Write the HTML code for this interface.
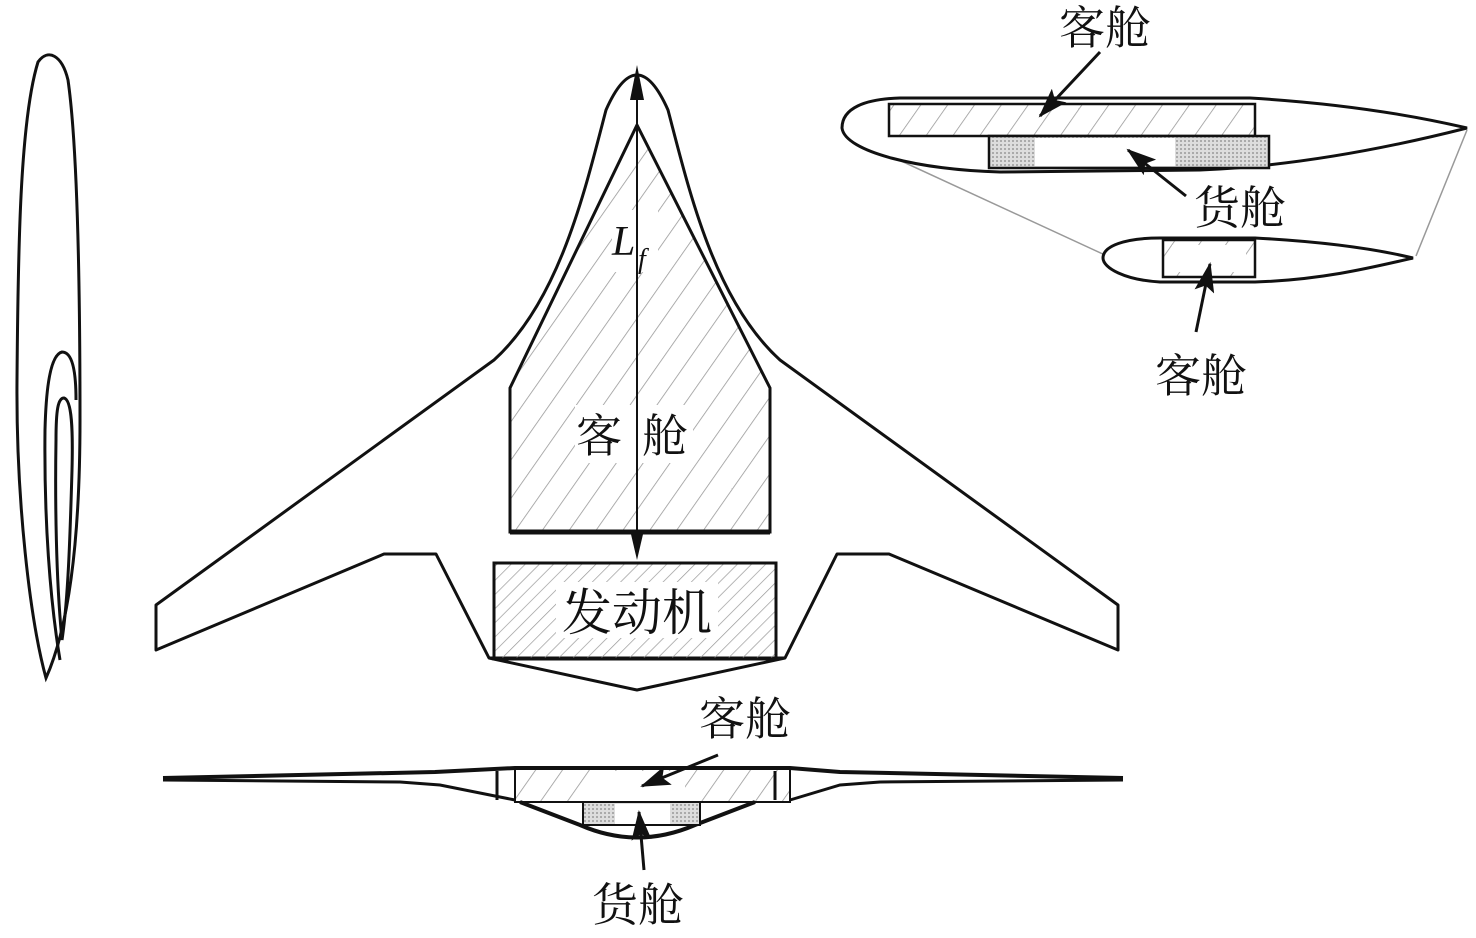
<!DOCTYPE html>
<html><head><meta charset="utf-8"><style>
html,body{margin:0;padding:0;background:#fff;}
svg{display:block;}
text{font-family:"Liberation Serif","Noto Serif CJK SC",serif;fill:#111;}
</style></head><body>
<svg width="1476" height="938" viewBox="0 0 1476 938" xmlns="http://www.w3.org/2000/svg">
<defs>
<pattern id="h" patternUnits="userSpaceOnUse" width="22" height="22" patternTransform="rotate(35)">
<line x1="0" y1="0" x2="0" y2="22" stroke="#999" stroke-width="1.6"/>
</pattern>
<pattern id="h2" patternUnits="userSpaceOnUse" width="10" height="10" patternTransform="rotate(45)">
<line x1="0" y1="0" x2="0" y2="10" stroke="#999" stroke-width="1.4"/>
</pattern>
<pattern id="d" patternUnits="userSpaceOnUse" width="4" height="4">
<rect width="4" height="4" fill="#ddd"/><rect width="2" height="2" fill="#aaa"/>
</pattern>
<marker id="b" markerWidth="30" markerHeight="20" refX="28" refY="10" orient="auto" markerUnits="userSpaceOnUse">
<path d="M0,0 L30,10 L0,20 L6,10 Z" fill="#111"/></marker>
</defs>

<!-- left side view -->
<g fill="none" stroke="#111" stroke-width="3">
<path d="M46,678 C30,620 16,500 17,380 C18,250 20,120 38,62 C48,48 62,55 68,80 C78,150 80,300 80,420 C80,520 72,620 46,678 Z"/>
<path d="M60,660 C50,600 44,520 45,430 C46,390 50,355 62,352 C72,352 76,370 76,400"/>
<path d="M62,640 C56,580 55,500 56,440 C56,410 58,398 64,398 C72,400 73,430 72,470 C70,540 68,600 62,640"/>
</g>

<!-- main planform -->
<path d="M494,360 C560,300 585,190 606,110 Q637,40 668,110 C689,190 714,300 780,360 L1118,605 L1118,650 L889,554 L837,554 L785,658 L637,690 L489,658 L436,554 L384,554 L156,650 L156,605 Z" fill="#fff" stroke="#111" stroke-width="3" stroke-linejoin="round"/>
<path d="M489,658 L785,658" stroke="#111" stroke-width="3"/>
<path d="M637,125 L770,388 L770,532 L510,532 L510,388 Z" fill="url(#h)" stroke="#111" stroke-width="3"/>
<path d="M510,532 L770,532" stroke="#111" stroke-width="5"/>
<rect x="494" y="563" width="282" height="96" fill="url(#h2)" stroke="#111" stroke-width="3"/>
<rect x="556" y="582" width="162" height="56" fill="#fff"/>
<text x="637" y="630" font-size="50" text-anchor="middle">发动机</text>
<rect x="612" y="210" width="46" height="62" fill="#fff"/>
<rect x="575" y="405" width="118" height="58" fill="#fff"/>
<line x1="637" y1="70" x2="637" y2="555" stroke="#111" stroke-width="2"/>
<path d="M637,65 L630,100 L644,100 Z" fill="#111"/>
<path d="M637,560 L630,530 L644,530 Z" fill="#111"/>
<text x="612" y="255" font-size="42" font-style="italic">L</text>
<text x="638" y="268" font-size="28" font-style="italic">f</text>
<text x="576" y="452" font-size="46">客</text>
<text x="642" y="452" font-size="46">舱</text>

<!-- bottom section -->
<g stroke="#111" fill="none">
<path d="M163,778 L435,772 L515,768 L790,768 L840,772 L1123,778" stroke-width="4"/>
<path d="M163,780 L400,782 L440,785 L515,800" stroke-width="3"/>
<path d="M1123,780 L880,782 L840,785 L790,800" stroke-width="3"/>
<path d="M520,802 L580,825 Q637,850 695,825 L755,802" stroke-width="4"/>
</g>
<rect x="515" y="769" width="275" height="33" fill="url(#h)" stroke="#111" stroke-width="2"/>
<rect x="590" y="771" width="95" height="30" fill="#fff"/>
<rect x="583" y="802" width="117" height="23" fill="url(#d)" stroke="#111" stroke-width="2"/>
<rect x="615" y="804" width="55" height="20" fill="#fff"/>
<line x1="497" y1="771" x2="497" y2="800" stroke="#111" stroke-width="3"/>
<line x1="775" y1="771" x2="775" y2="800" stroke="#111" stroke-width="3"/>
<line x1="790" y1="771" x2="790" y2="800" stroke="#111" stroke-width="2"/>
<line x1="718" y1="755" x2="642" y2="786" stroke="#111" stroke-width="3" marker-end="url(#b)"/>
<line x1="644" y1="870" x2="639" y2="812" stroke="#111" stroke-width="3" marker-end="url(#b)"/>
<text x="745" y="735" font-size="46" text-anchor="middle">客舱</text>
<text x="638" y="921" font-size="46" text-anchor="middle">货舱</text>

<!-- top right sections -->
<line x1="860" y1="142" x2="1105" y2="255" stroke="#999" stroke-width="1.5"/>
<line x1="1467" y1="130" x2="1416" y2="256" stroke="#999" stroke-width="1.5"/>
<path d="M842,128 C842,108 865,99 900,98 L1250,98 C1350,104 1420,117 1467,128 C1400,145 1300,166 1200,170 L1000,172 C920,170 845,152 842,128 Z" fill="#fff" stroke="#111" stroke-width="3"/>
<rect x="889" y="104" width="366" height="32" fill="url(#h)" stroke="#111" stroke-width="2.5"/>
<rect x="989" y="136" width="280" height="32" fill="url(#d)" stroke="#111" stroke-width="2.5"/>
<rect x="1035" y="138" width="140" height="28" fill="#fff"/>
<path d="M1103,258 C1103,246 1125,238 1160,238 L1255,238 C1330,242 1380,250 1413,258 C1370,268 1320,280 1255,282 L1160,282 C1125,280 1103,268 1103,258 Z" fill="#fff" stroke="#111" stroke-width="3"/>
<rect x="1163" y="240" width="92" height="37" fill="url(#h)" stroke="#111" stroke-width="2.5"/>
<rect x="1172" y="245" width="74" height="27" fill="#fff"/>
<line x1="1100" y1="52" x2="1040" y2="116" stroke="#111" stroke-width="3" marker-end="url(#b)"/>
<line x1="1186" y1="196" x2="1128" y2="150" stroke="#111" stroke-width="3" marker-end="url(#b)"/>
<line x1="1196" y1="332" x2="1210" y2="264" stroke="#111" stroke-width="3" marker-end="url(#b)"/>
<text x="1105" y="44" font-size="46" text-anchor="middle">客舱</text>
<text x="1240" y="224" font-size="46" text-anchor="middle">货舱</text>
<text x="1201" y="392" font-size="46" text-anchor="middle">客舱</text>
</svg>
</body></html>
